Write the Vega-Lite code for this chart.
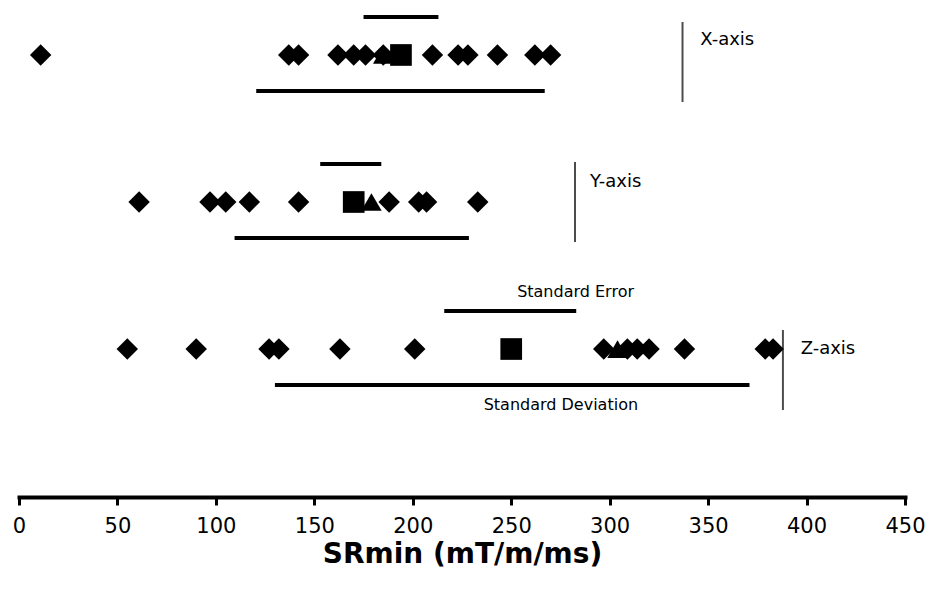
{
  "$schema": "https://vega.github.io/schema/vega-lite/v6.json",
  "width": 886,
  "height": 404,
  "autosize": {"type": "none"},
  "padding": {"left": 19, "top": 0, "right": 25, "bottom": 188},
  "background": "white",
  "datasets": {
    "points": [
      {"axis": "X-axis", "v": 11}, {"axis": "X-axis", "v": 137}, {"axis": "X-axis", "v": 142},
      {"axis": "X-axis", "v": 162}, {"axis": "X-axis", "v": 170}, {"axis": "X-axis", "v": 176},
      {"axis": "X-axis", "v": 185}, {"axis": "X-axis", "v": 210}, {"axis": "X-axis", "v": 223},
      {"axis": "X-axis", "v": 228}, {"axis": "X-axis", "v": 243}, {"axis": "X-axis", "v": 262},
      {"axis": "X-axis", "v": 270},
      {"axis": "Y-axis", "v": 61}, {"axis": "Y-axis", "v": 97}, {"axis": "Y-axis", "v": 105},
      {"axis": "Y-axis", "v": 117}, {"axis": "Y-axis", "v": 142}, {"axis": "Y-axis", "v": 188},
      {"axis": "Y-axis", "v": 203}, {"axis": "Y-axis", "v": 207}, {"axis": "Y-axis", "v": 233},
      {"axis": "Z-axis", "v": 55}, {"axis": "Z-axis", "v": 90}, {"axis": "Z-axis", "v": 127},
      {"axis": "Z-axis", "v": 132}, {"axis": "Z-axis", "v": 163}, {"axis": "Z-axis", "v": 201},
      {"axis": "Z-axis", "v": 297}, {"axis": "Z-axis", "v": 309}, {"axis": "Z-axis", "v": 314},
      {"axis": "Z-axis", "v": 320}, {"axis": "Z-axis", "v": 338}, {"axis": "Z-axis", "v": 379},
      {"axis": "Z-axis", "v": 383}
    ],
    "stats": [
      {"axis": "X-axis", "mean": 194, "median": 185, "se_lo": 176, "se_hi": 212, "sd_lo": 121.5, "sd_hi": 266, "line_x": 337, "label_x": 346},
      {"axis": "Y-axis", "mean": 170, "median": 179, "se_lo": 154, "se_hi": 183, "sd_lo": 110.5, "sd_hi": 227.5, "line_x": 282.4, "label_x": 290},
      {"axis": "Z-axis", "mean": 250, "median": 304, "se_lo": 217, "se_hi": 282, "sd_lo": 131, "sd_hi": 370, "line_x": 388, "label_x": 397}
    ],
    "notes": [
      {"axis": "Z-axis", "kind": "se", "text": "Standard Error", "v": 253},
      {"axis": "Z-axis", "kind": "sd", "text": "Standard Deviation", "v": 236}
    ]
  },
  "config": {
    "view": {"stroke": null},
    "font": "DejaVu Sans",
    "axisX": {
      "offset": 93,
      "domainColor": "black",
      "domainWidth": 4,
      "domainCap": "square",
      "tickColor": "black",
      "tickWidth": 3,
      "tickSize": 8,
      "labelFont": "DejaVu Sans",
      "labelFontSize": 21,
      "labelColor": "black",
      "labelPadding": 10,
      "labelFlush": false,
      "grid": false,
      "titleFont": "DejaVu Sans",
      "titleFontSize": 28,
      "titleFontWeight": "bold",
      "titleColor": "black",
      "titlePadding": 4
    }
  },
  "encoding": {
    "y": {
      "field": "axis",
      "type": "nominal",
      "scale": {"type": "point", "domain": ["X-axis", "Y-axis", "Z-axis"], "padding": 0.374},
      "axis": null
    }
  },
  "layer": [
    {
      "data": {"name": "stats"},
      "mark": {"type": "rule", "color": "black", "strokeWidth": 4, "strokeCap": "square", "yOffset": -38},
      "encoding": {
        "x": {"field": "se_lo", "type": "quantitative", "scale": {"domain": [0, 450], "nice": false},
              "title": "SRmin (mT/m/ms)", "axis": {"values": [0, 50, 100, 150, 200, 250, 300, 350, 400, 450]}},
        "x2": {"field": "se_hi"}
      }
    },
    {
      "data": {"name": "stats"},
      "mark": {"type": "rule", "color": "black", "strokeWidth": 4, "strokeCap": "square", "yOffset": 36},
      "encoding": {
        "x": {"field": "sd_lo", "type": "quantitative", "scale": {"domain": [0, 450], "nice": false}, "title": "SRmin (mT/m/ms)"},
        "x2": {"field": "sd_hi"}
      }
    },
    {
      "data": {"name": "stats"},
      "mark": {"type": "point", "shape": "triangle-up", "filled": true, "color": "black", "size": 420, "opacity": 1},
      "encoding": {
        "x": {"field": "median", "type": "quantitative", "scale": {"domain": [0, 450], "nice": false}, "title": "SRmin (mT/m/ms)"}
      }
    },
    {
      "data": {"name": "points"},
      "mark": {"type": "point", "shape": "diamond", "filled": true, "color": "black", "size": 460, "opacity": 1},
      "encoding": {
        "x": {"field": "v", "type": "quantitative", "scale": {"domain": [0, 450], "nice": false}, "title": "SRmin (mT/m/ms)"}
      }
    },
    {
      "data": {"name": "stats"},
      "mark": {"type": "point", "shape": "square", "filled": true, "color": "black", "size": 470, "opacity": 1},
      "encoding": {
        "x": {"field": "mean", "type": "quantitative", "scale": {"domain": [0, 450], "nice": false}, "title": "SRmin (mT/m/ms)"}
      }
    },
    {
      "data": {"name": "stats"},
      "transform": [{"filter": "datum.axis === 'X-axis'"}],
      "mark": {"type": "tick", "color": "black", "thickness": 2, "size": 80, "yOffset": 7},
      "encoding": {
        "x": {"field": "line_x", "type": "quantitative", "scale": {"domain": [0, 450], "nice": false}, "title": "SRmin (mT/m/ms)"}
      }
    },
    {
      "data": {"name": "stats"},
      "transform": [{"filter": "datum.axis === 'Y-axis'"}],
      "mark": {"type": "tick", "color": "black", "thickness": 2, "size": 80, "yOffset": 0},
      "encoding": {
        "x": {"field": "line_x", "type": "quantitative", "scale": {"domain": [0, 450], "nice": false}, "title": "SRmin (mT/m/ms)"}
      }
    },
    {
      "data": {"name": "stats"},
      "transform": [{"filter": "datum.axis === 'Z-axis'"}],
      "mark": {"type": "tick", "color": "black", "thickness": 2, "size": 80, "yOffset": 21},
      "encoding": {
        "x": {"field": "line_x", "type": "quantitative", "scale": {"domain": [0, 450], "nice": false}, "title": "SRmin (mT/m/ms)"}
      }
    },
    {
      "data": {"name": "stats"},
      "transform": [{"filter": "datum.axis === 'X-axis'"}],
      "mark": {"type": "text", "align": "left", "baseline": "middle", "fontSize": 18, "color": "black", "yOffset": -15},
      "encoding": {
        "x": {"field": "label_x", "type": "quantitative", "scale": {"domain": [0, 450], "nice": false}, "title": "SRmin (mT/m/ms)"},
        "text": {"field": "axis"}
      }
    },
    {
      "data": {"name": "stats"},
      "transform": [{"filter": "datum.axis === 'Y-axis'"}],
      "mark": {"type": "text", "align": "left", "baseline": "middle", "fontSize": 18, "color": "black", "yOffset": -20},
      "encoding": {
        "x": {"field": "label_x", "type": "quantitative", "scale": {"domain": [0, 450], "nice": false}, "title": "SRmin (mT/m/ms)"},
        "text": {"field": "axis"}
      }
    },
    {
      "data": {"name": "stats"},
      "transform": [{"filter": "datum.axis === 'Z-axis'"}],
      "mark": {"type": "text", "align": "left", "baseline": "middle", "fontSize": 18, "color": "black", "yOffset": 0},
      "encoding": {
        "x": {"field": "label_x", "type": "quantitative", "scale": {"domain": [0, 450], "nice": false}, "title": "SRmin (mT/m/ms)"},
        "text": {"field": "axis"}
      }
    },
    {
      "data": {"name": "notes"},
      "transform": [{"filter": "datum.kind === 'se'"}],
      "mark": {"type": "text", "align": "left", "baseline": "middle", "fontSize": 16, "color": "black", "yOffset": -57},
      "encoding": {
        "x": {"field": "v", "type": "quantitative", "scale": {"domain": [0, 450], "nice": false}, "title": "SRmin (mT/m/ms)"},
        "text": {"field": "text"}
      }
    },
    {
      "data": {"name": "notes"},
      "transform": [{"filter": "datum.kind === 'sd'"}],
      "mark": {"type": "text", "align": "left", "baseline": "middle", "fontSize": 16, "color": "black", "yOffset": 56},
      "encoding": {
        "x": {"field": "v", "type": "quantitative", "scale": {"domain": [0, 450], "nice": false}, "title": "SRmin (mT/m/ms)"},
        "text": {"field": "text"}
      }
    }
  ]
}
